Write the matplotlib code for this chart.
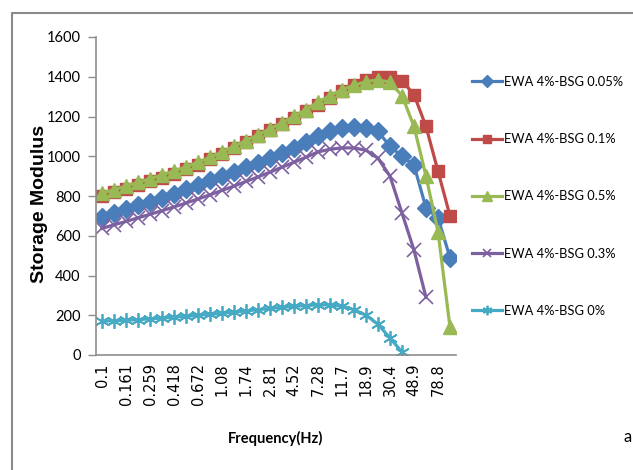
import matplotlib
matplotlib.use("Agg")
import matplotlib.pyplot as plt
from matplotlib.lines import Line2D

# ---------------- data ----------------
freqs = [0.1, 0.127, 0.161, 0.204, 0.259, 0.329, 0.418, 0.53, 0.672, 0.853,
         1.08, 1.37, 1.74, 2.21, 2.81, 3.56, 4.52, 5.74, 7.28, 9.24,
         11.7, 14.9, 18.9, 24.0, 30.4, 38.6, 48.9, 62.1, 78.8, 100]
tick_labels = ["0.1", "0.161", "0.259", "0.418", "0.672", "1.08", "1.74", "2.81",
               "4.52", "7.28", "11.7", "18.9", "30.4", "48.9", "78.8"]

bsg_005 = [696, 715, 734, 753, 772, 792, 812, 833, 855, 878,
           900, 922, 945, 968, 992, 1018, 1043, 1070, 1100, 1125,
           1140, 1145, 1143, 1125, 1050, 1000, 955, 740, 690, 490]
bsg_01 = [800, 818, 836, 855, 874, 893, 913, 934, 958, 985,
          1013, 1041, 1070, 1100, 1130, 1161, 1193, 1226, 1260, 1295,
          1330, 1360, 1385, 1400, 1400, 1380, 1310, 1150, 925, 700]
bsg_05 = [815, 832, 850, 868, 887, 906, 926, 947, 970, 995,
          1022, 1050, 1079, 1108, 1138, 1169, 1201, 1235, 1272, 1305,
          1335, 1358, 1375, 1385, 1372, 1305, 1150, 900, 620, 140]
bsg_03 = [637, 655, 672, 690, 708, 726, 745, 765, 785, 806,
          828, 850, 873, 896, 920, 945, 970, 995, 1022, 1035,
          1042, 1042, 1030, 990, 900, 714, 528, 290]
bsg_0 = [170, 172, 175, 178, 182, 186, 190, 195, 200, 205,
         210, 216, 222, 228, 234, 240, 245, 249, 252, 252,
         245, 228, 200, 155, 85, 15]

series_names = ["EWA 4%-BSG 0.05%", "EWA 4%-BSG 0.1%", "EWA 4%-BSG 0.5%",
                "EWA 4%-BSG 0.3%", "EWA 4%-BSG 0%"]

# ---------------- figure ----------------
W, H = 633, 470
fig = plt.figure(figsize=(W / 100, H / 100), dpi=100)
fig.patch.set_facecolor("white")

left, right, bottom, top = 96, 456, 355, 37
ax = fig.add_axes([left / W, 1 - bottom / H, (right - left) / W, (bottom - top) / H])

cal = ["Lato", "DejaVu Sans"]

styles = [
    dict(color="#4A7EBB", marker="D", ms=8.8, mew=1.0),
    dict(color="#BE4B48", marker="s", ms=8.5, mew=1.0),
    dict(color="#98B954", marker="^", ms=10, mew=1.0),
    dict(color="#7D60A0", marker="x", ms=9.5, mew=1.2),
    dict(color="#46AAC5", marker=(6, 2, 0), ms=10.5, mew=1.3),
]
data = [bsg_005, bsg_01, bsg_05, bsg_03, bsg_0]

handles = []
for vals, st, name in zip(data, styles, series_names):
    xs = list(range(len(vals)))
    h, = ax.plot(xs, vals, color=st["color"], lw=2.3, marker=st["marker"],
                 ms=st["ms"], mew=st["mew"], mec=st["color"],
                 mfc=st["color"], label=name, solid_joinstyle="round")
    handles.append(h)

ax.set_xlim(-0.5, len(freqs) - 0.5)
ax.set_ylim(0, 1600)
ax.set_yticks(range(0, 1601, 200))
ax.set_yticklabels([str(v) for v in range(0, 1601, 200)], family=cal, fontsize=10.5)
ax.set_xticks(range(0, len(freqs), 2))
ax.set_xticklabels(tick_labels, rotation=90, family=["DejaVu Sans"], fontsize=10.5)

for s in ["top", "right"]:
    ax.spines[s].set_visible(False)
for s in ["left", "bottom"]:
    ax.spines[s].set_color("#8E8E8E")
    ax.spines[s].set_linewidth(1.2)
ax.tick_params(axis="y", direction="out", length=6, color="#8E8E8E", width=1, pad=5)
ax.tick_params(axis="x", length=0, pad=6)

fig.text(40 / W, 1 - 204 / H, "Storage Modulus", rotation=90, ha="center", va="center",
         fontsize=14, fontweight="bold", family=["Liberation Sans", "DejaVu Sans"])
fig.text(276 / W, 1 - 438 / H, "Frequency(Hz)", ha="center", va="center",
         fontsize=10.5, fontweight="bold", family=cal)
fig.text(628 / W, 1 - 437 / H, "a", ha="center", va="center",
         fontsize=12, family=cal)

leg = fig.legend(handles=handles, loc="upper left",
                 bbox_to_anchor=(472 / W, 1 - 76 / H), frameon=False,
                 prop={"family": cal, "size": 9.3},
                 handlelength=2.35, handletextpad=0.1, labelspacing=3.5,
                 borderaxespad=0, borderpad=0, markerscale=0.65)

# outer frame (only top and left visible in the reference)
fig.add_artist(Line2D([12 / W, 12 / W, 1.0], [0.0, 1 - 13 / H, 1 - 13 / H],
                      transform=fig.transFigure, color="#8A8A8A", lw=1.5))

fig.savefig("out.png", dpi=100)
